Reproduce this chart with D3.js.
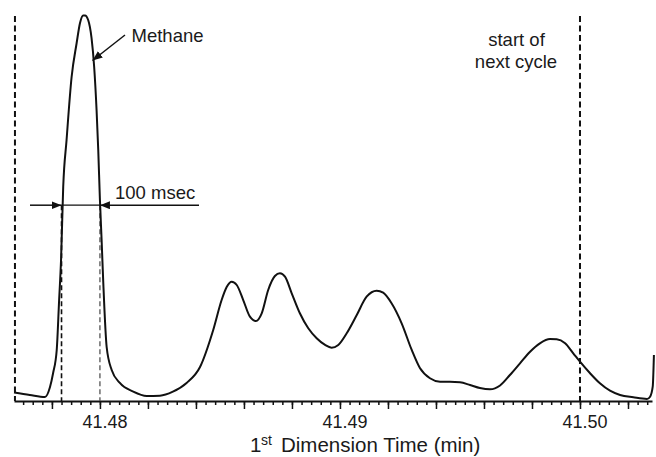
<!DOCTYPE html>
<html>
<head>
<meta charset="utf-8">
<script src="https://cdn.jsdelivr.net/npm/d3@7"></script>
<style>
  html, body { margin: 0; padding: 0; background: #fff; }
  text { font-family: "Liberation Sans", Arial, Helvetica, sans-serif; fill: #1a1a1a; }
</style>
</head>
<body>
<script>
// Retention time (min) along the first dimension
const times = [
  41.47642, 41.47708, 41.47771, 41.47792, 41.47805, 41.47820, 41.47830, 41.47838,
  41.47847, 41.47861, 41.47882, 41.47903, 41.47917, 41.47930, 41.47938, 41.47951,
  41.47965, 41.47976, 41.47986, 41.47993, 41.48000, 41.48007, 41.48014, 41.48028,
  41.48049, 41.48083, 41.48139, 41.48195, 41.48250, 41.48304, 41.48361, 41.48417,
  41.48472, 41.48507, 41.48528, 41.48549, 41.48570, 41.48597, 41.48625, 41.48650,
  41.48674, 41.48701, 41.48729, 41.48750, 41.48771, 41.48799, 41.48833, 41.48868,
  41.48903, 41.48938, 41.48965, 41.48993, 41.49028, 41.49070, 41.49111, 41.49153,
  41.49180, 41.49215, 41.49257, 41.49299, 41.49333, 41.49375, 41.49417, 41.49458,
  41.49500, 41.49542, 41.49583, 41.49625, 41.49667, 41.49708, 41.49750, 41.49792,
  41.49833, 41.49875, 41.49903, 41.49938, 41.49972, 41.50000, 41.50042, 41.50083,
  41.50125, 41.50167, 41.50222, 41.50279, 41.50292, 41.50303, 41.50308
];

// Detector signal (relative units, methane apex = 100)
const signal = [
  1.95, 1.30, 0.78, 3.38, 7.01, 12.99, 25.97, 36.36,
  55.32, 67.53, 83.90, 92.73, 97.92, 99.87, 99.87, 98.70,
  94.03, 86.49, 75.32, 64.94, 51.95, 41.56, 30.39, 13.77,
  7.79, 4.42, 2.16, 1.04, 1.12, 2.16, 4.42, 8.57,
  18.18, 25.97, 29.35, 30.73, 29.87, 25.97, 21.64, 20.52,
  22.52, 28.57, 32.21, 32.91, 32.03, 27.71, 22.52, 18.62,
  16.03, 14.29, 13.58, 14.29, 17.32, 22.08, 26.83, 28.39,
  27.87, 25.12, 19.92, 12.99, 8.31, 5.64, 4.75, 4.75,
  4.60, 3.90, 3.12, 2.78, 3.77, 6.49, 9.53, 12.55,
  14.73, 15.84, 15.77, 14.73, 12.13, 9.95, 6.94, 4.34,
  2.42, 1.30, 0.70, 0.26, 0.86, 3.45, 11.69
];

// Modulation cycle boundaries (min)
const cycleStarts = [41.47646, 41.50000];

// Methane peak width at the marked level
const widthEdges = [41.47840, 41.48000];
const widthLevel = 50.6;

// Axis ticks
const tickValues = [41.48, 41.49, 41.50];
const tickLabels = ["41.48", "41.49", "41.50"];
const majorStep = 0.002;
const minorStep = 0.0004;

const W = 656, H = 457;
const svg = d3.select("body").append("svg")
  .attr("width", W).attr("height", H);

const x = d3.scaleLinear().domain([41.47642, 41.50300]).range([14, 652]);
const y = d3.scaleLinear().domain([0, 100]).range([400, 15]);
const axisY = 401;

const [d0, d1] = x.domain();
const minorTicks = d3.range(Math.ceil(d0 / minorStep), Math.floor(d1 / minorStep) + 1)
  .map(i => +(i * minorStep).toFixed(5));
const majorTicks = d3.range(Math.ceil(d0 / majorStep), Math.floor(d1 / majorStep) + 1)
  .map(i => +(i * majorStep).toFixed(4));

// Minor ticks
svg.append("g")
  .attr("transform", `translate(0,${axisY})`)
  .call(d3.axisBottom(x).tickValues(minorTicks).tickSize(4).tickSizeOuter(0).tickFormat(""))
  .call(g => g.select(".domain").remove())
  .call(g => g.selectAll(".tick line").attr("stroke", "#111").attr("stroke-width", 1.5));

// Major ticks and axis line
svg.append("g")
  .attr("transform", `translate(0,${axisY})`)
  .call(d3.axisBottom(x).tickValues(majorTicks).tickSize(8).tickSizeOuter(0).tickFormat(""))
  .call(g => g.select(".domain").attr("stroke", "#111").attr("stroke-width", 2))
  .call(g => g.selectAll(".tick line").attr("stroke", "#111").attr("stroke-width", 1.5));

// Tick labels
svg.append("g").selectAll("text")
  .data(tickValues)
  .join("text")
  .attr("x", d => x(d) + 5)
  .attr("y", 428)
  .attr("text-anchor", "middle")
  .attr("font-size", "18px")
  .text((d, i) => tickLabels[i]);

// Axis title
const title = svg.append("text").attr("y", 452).attr("font-size", "20.5px");
title.append("tspan").attr("x", 250).text("1");
title.append("tspan").attr("x", 261).attr("dy", -7).attr("font-size", "14px").text("st");
title.append("tspan").attr("x", 281).attr("dy", 7).text("Dimension Time (min)");

// Cycle boundary markers
svg.append("g").selectAll("line")
  .data(cycleStarts)
  .join("line")
  .attr("x1", d => x(d)).attr("x2", d => x(d))
  .attr("y1", 16).attr("y2", axisY)
  .attr("stroke", "#111").attr("stroke-width", 2)
  .attr("stroke-dasharray", "6,3.5");

// Peak width edges
svg.append("g").selectAll("line")
  .data(widthEdges)
  .join("line")
  .attr("x1", d => x(d)).attr("x2", d => x(d))
  .attr("y1", y(widthLevel)).attr("y2", axisY)
  .attr("stroke", (d, i) => i === 0 ? "#111" : "#555")
  .attr("stroke-width", (d, i) => i === 0 ? 1.6 : 1.3)
  .attr("stroke-dasharray", "5,3");

// Chromatogram trace
const line = d3.line()
  .x((d, i) => x(times[i]))
  .y(d => y(d))
  .curve(d3.curveMonotoneX);

svg.append("path")
  .datum(signal)
  .attr("d", line)
  .attr("fill", "none")
  .attr("stroke", "#111")
  .attr("stroke-width", 2)
  .attr("stroke-linejoin", "round");

// Arrowhead marker
const defs = svg.append("defs");
defs.append("marker")
  .attr("id", "head")
  .attr("viewBox", "0 0 10 8")
  .attr("refX", 10).attr("refY", 4)
  .attr("markerWidth", 10).attr("markerHeight", 8)
  .attr("markerUnits", "userSpaceOnUse")
  .attr("orient", "auto")
  .append("path")
  .attr("d", "M0,0 L10,4 L0,8 Z")
  .attr("fill", "#111");

// Width bracket arrows
const wy = y(widthLevel);
svg.append("line")
  .attr("x1", 30).attr("x2", x(widthEdges[0]))
  .attr("y1", wy).attr("y2", wy)
  .attr("stroke", "#111").attr("stroke-width", 1.5)
  .attr("marker-end", "url(#head)");
svg.append("line")
  .attr("x1", x(widthEdges[0])).attr("x2", x(widthEdges[1]))
  .attr("y1", wy).attr("y2", wy)
  .attr("stroke", "#111").attr("stroke-width", 1.2);
svg.append("line")
  .attr("x1", 199).attr("x2", x(widthEdges[1]))
  .attr("y1", wy).attr("y2", wy)
  .attr("stroke", "#111").attr("stroke-width", 1.5)
  .attr("marker-end", "url(#head)");

svg.append("text")
  .attr("x", 115).attr("y", 199)
  .attr("font-size", "18.5px")
  .text("100 msec");

// Methane label with pointer
svg.append("line")
  .attr("x1", 125).attr("y1", 35)
  .attr("x2", 92.5).attr("y2", 60.5)
  .attr("stroke", "#111").attr("stroke-width", 1.5)
  .attr("marker-end", "url(#head)");
svg.append("text")
  .attr("x", 131.5).attr("y", 41.5)
  .attr("font-size", "18.5px")
  .text("Methane");

// Cycle annotation
const cyc = svg.append("text")
  .attr("text-anchor", "middle")
  .attr("font-size", "18.5px");
cyc.append("tspan").attr("x", 516.5).attr("y", 45.5).text("start of");
cyc.append("tspan").attr("x", 516).attr("y", 68).text("next cycle");
</script>
</body>
</html>
